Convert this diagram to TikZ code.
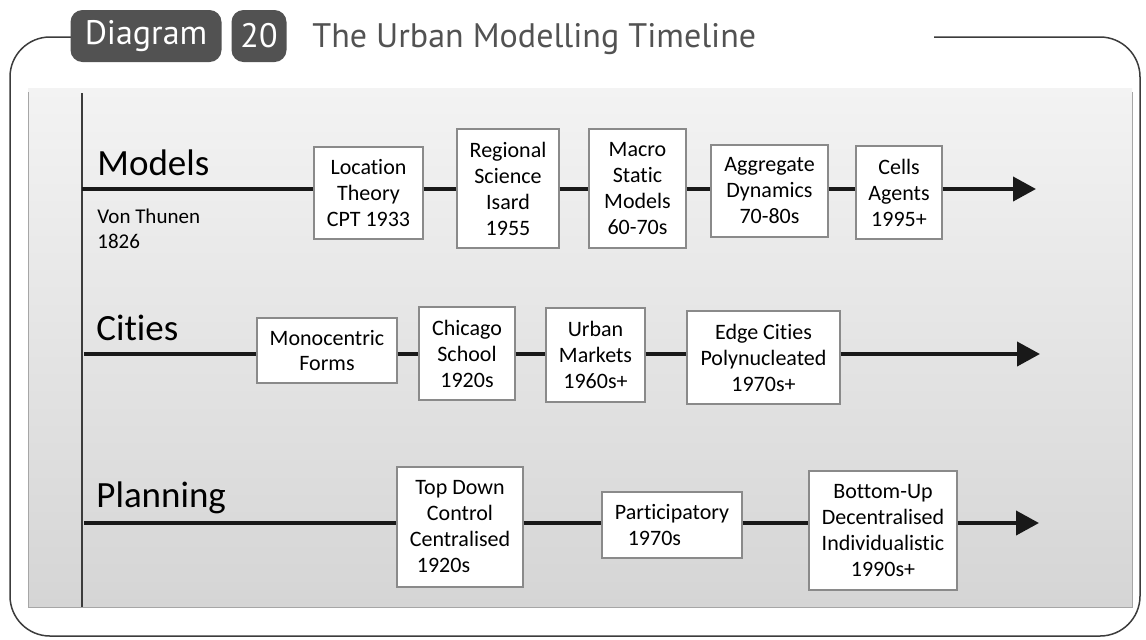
\documentclass[tikz,border=0pt]{standalone}
\usepackage{fontspec}
\setmainfont{Carlito}[Ligatures=NoCommon]
\newfontfamily\titlefont{PT Sans}
\usetikzlibrary{arrows.meta}
\definecolor{tabgrey}{HTML}{525252}
\definecolor{framegrey}{HTML}{3C3C3C}
\definecolor{boxedge}{HTML}{8A8A8A}
\definecolor{paneltop}{HTML}{F3F3F3}
\definecolor{panelbot}{HTML}{D5D5D5}
\begin{document}
\begin{tikzpicture}[x=0.5pt,y=-0.5pt,
    tab/.style={fill=tabgrey, rounded corners=6pt, text=white, inner sep=0pt,
        minimum height=26pt, font=\titlefont\fontsize{17}{20}\selectfont},
    era/.style={draw=boxedge, fill=white, line width=0.6pt, inner sep=2pt,
        align=center, font=\fontsize{11}{13}\selectfont},
    rowname/.style={anchor=base west, inner sep=0pt, font=\fontsize{18.5}{22}\selectfont},
    tl/.style={line width=2pt, black!90},
    tip/.style={tl, -{Triangle[length=11.5pt,width=12pt]}}]
            % page and frame
            \useasboundingbox (0,0) rectangle (1146,639);
            \draw[framegrey, line width=0.75pt, rounded corners=20pt]
                (80,37) -- (10,37) -- (10,636) -- (1140,636) -- (1140,37) -- (934,37);
            \node[tab, minimum width=75.5pt] (diag) at (146,36) {Diagram};
            \node[tab, minimum width=27.5pt] (num) at (259,36) {20};
            \node[anchor=base west, inner sep=0pt, text=tabgrey,
                font=\titlefont\fontsize{17}{20}\selectfont] (title) at (312,47)
                {The Urban Modelling Timeline};
            % grey panel
            \shade[top color=paneltop, bottom color=panelbot] (28,88) rectangle (1132,607);
            \draw[gray!70, line width=0.5pt] (28,92) -- (28,607) -- (1132,607) -- (1132,92);
            \draw[framegrey, line width=1pt] (82,93) -- (82,607);
            % row names
            \node[rowname] (models) at (97,175) {Models};
            \node[rowname] (cities) at (96,340) {Cities};
            \node[rowname] (planning) at (96,507) {Planning};
            \node[anchor=base west, inner sep=0pt, align=left,
                font=\fontsize{10.5}{12.5}\selectfont] (thunen) at (97,248) {Von Thunen\\1826};
            % models
            \coordinate (ms) at (82,189);
            \coordinate (me) at (1036,189);
            \node[era, minimum width=54.5pt, minimum height=46pt] (loc) at (368.5,193) {Location\\Theory\\CPT 1933};
            \node[era, minimum width=51pt, minimum height=59.5pt] (reg) at (508,188.5) {Regional\\Science\\Isard\\1955};
            \node[era, minimum width=48.5pt, minimum height=59.5pt] (mac) at (637.5,188.5) {Macro\\Static\\Models\\60-70s};
            \node[era, minimum width=58.5pt, minimum height=46pt] (agg) at (769.5,191) {Aggregate\\Dynamics\\70-80s};
            \node[era, minimum width=43pt, minimum height=46.5pt] (cel) at (899,192.5) {Cells\\Agents\\1995+};
            % cities
            \coordinate (cs) at (84,354);
            \coordinate (ce) at (1040,354);
            \node[era, minimum width=70pt, minimum height=32.5pt] (mono) at (327,350.5) {Monocentric\\Forms};
            \node[era, minimum width=48pt, minimum height=46.5pt] (chi) at (467,353.5) {Chicago\\School\\1920s};
            \node[era, minimum width=49.5pt, minimum height=47pt] (urb) at (595.5,355) {Urban\\Markets\\1960s+};
            \node[era, minimum width=76.5pt, minimum height=46.5pt] (edge) at (763.5,357.5) {Edge Cities\\Polynucleated\\1970s+};
            % planning
            \coordinate (ps) at (84,523);
            \coordinate (pe) at (1039,523);
            \node[era, minimum width=63pt, minimum height=60pt] (top) at (460,527) {Top Down\\Control\\Centralised\\\hspace*{-1.5em}1920s};
            \node[era, minimum width=70pt, minimum height=33pt] (par) at (672,525) {Participatory\\\hspace*{-1.6em}1970s};
            \node[era, minimum width=74pt, minimum height=59.5pt] (bot) at (883,530.5) {Bottom-Up\\Decentralised\\Individualistic\\1990s+};
            % time lines
            \draw[tl] (ms) -- (loc.west |- ms) (loc.east |- ms) -- (reg.west |- ms)
                (reg.east |- ms) -- (mac.west |- ms) (mac.east |- ms) -- (agg.west |- ms)
                (agg.east |- ms) -- (cel.west |- ms);
            \draw[tip] (cel.east |- ms) -- (me);
            \draw[tl] (cs) -- (mono.west |- cs) (mono.east |- cs) -- (chi.west |- cs)
                (chi.east |- cs) -- (urb.west |- cs) (urb.east |- cs) -- (edge.west |- cs);
            \draw[tip] (edge.east |- cs) -- (ce);
            \draw[tl] (ps) -- (top.west |- ps) (top.east |- ps) -- (par.west |- ps)
                (par.east |- ps) -- (bot.west |- ps);
            \draw[tip] (bot.east |- ps) -- (pe);
\end{tikzpicture}
\end{document}
